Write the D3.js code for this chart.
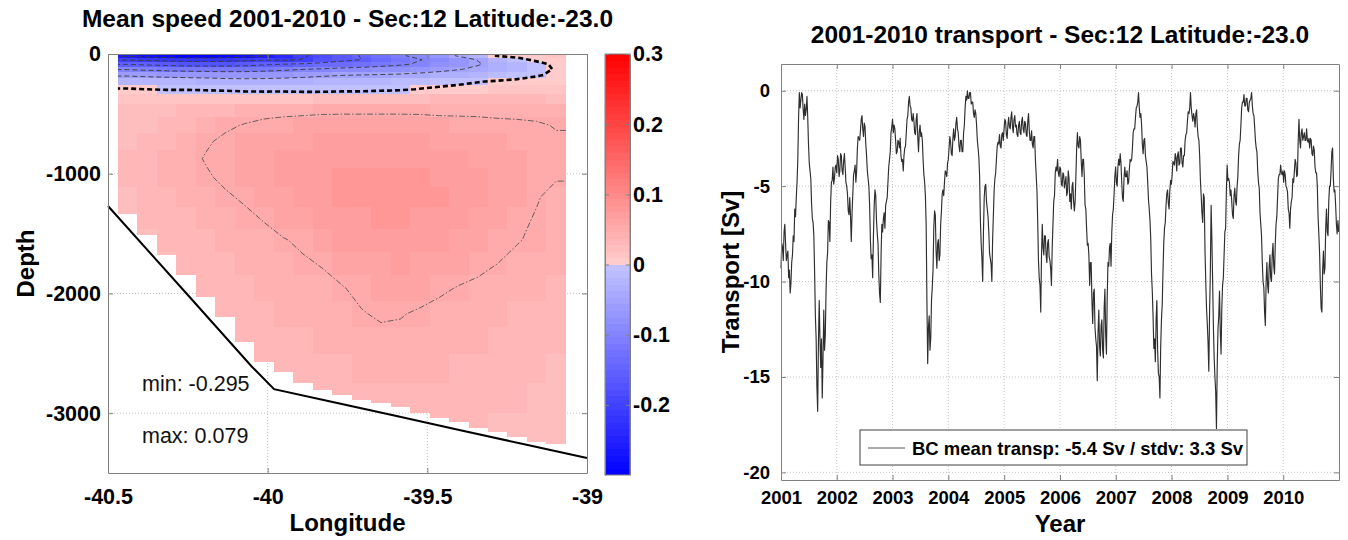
<!DOCTYPE html>
<html><head><meta charset="utf-8">
<script src="https://cdn.jsdelivr.net/npm/d3@7"></script>
<style>
html,body{margin:0;padding:0;background:#fff;}
svg{display:block;}
</style></head><body>
<svg id="chart" width="1348" height="540"></svg>
<script>
// ================= DATA =================
// Left panel: mean along-section speed (m/s), rows = depth layers, columns = longitude cells
const lonEdges = [-40.469,-40.408,-40.347,-40.286,-40.225,-40.164,-40.103,-40.042,-39.981,-39.920,-39.859,-39.798,-39.737,-39.676,-39.615,-39.554,-39.493,-39.432,-39.371,-39.310,-39.249,-39.188,-39.127,-39.066];
const depthEdges = [0,30,65,105,150,200,260,330,420,530,660,800,950,1110,1280,1460,1650,1850,2060,2280,2510,2750,3000,3260];
const colBottom = [1331,1506,1679,1846,2028,2195,2403,2570,2654,2748,2807,2849,2890,2916,2946,3000,3041,3072,3124,3155,3197,3235,3255];
const speedField = [
 [-0.260,-0.272,-0.283,-0.295,-0.292,-0.286,-0.272,-0.255,-0.235,-0.206,-0.185,-0.164,-0.148,-0.128,-0.105,-0.088,-0.068,-0.046,-0.022,0.002,0.006,0.009,0.011],
 [-0.204,-0.211,-0.217,-0.222,-0.222,-0.219,-0.213,-0.206,-0.208,-0.198,-0.178,-0.160,-0.150,-0.135,-0.118,-0.102,-0.085,-0.067,-0.048,-0.028,-0.006,0.004,0.009],
 [-0.152,-0.158,-0.164,-0.169,-0.170,-0.170,-0.166,-0.157,-0.150,-0.145,-0.138,-0.132,-0.126,-0.117,-0.106,-0.094,-0.081,-0.068,-0.053,-0.037,-0.020,-0.006,0.004],
 [-0.103,-0.109,-0.114,-0.118,-0.120,-0.121,-0.120,-0.115,-0.108,-0.101,-0.096,-0.090,-0.085,-0.081,-0.076,-0.069,-0.061,-0.052,-0.042,-0.031,-0.019,-0.008,0.002],
 [-0.057,-0.062,-0.066,-0.069,-0.071,-0.074,-0.075,-0.073,-0.069,-0.063,-0.057,-0.052,-0.050,-0.048,-0.045,-0.041,-0.036,-0.030,-0.023,-0.015,-0.008,-0.002,0.004],
 [-0.019,-0.022,-0.024,-0.027,-0.029,-0.033,-0.034,-0.034,-0.033,-0.031,-0.028,-0.024,-0.022,-0.020,-0.017,-0.013,-0.009,-0.005,-0.001,0.002,0.004,0.006,0.008],
 [0.002,0.000,-0.001,-0.001,-0.002,-0.003,-0.005,-0.006,-0.006,-0.008,-0.008,-0.007,-0.007,-0.005,-0.003,0.001,0.004,0.006,0.008,0.010,0.012,0.013,0.013],
 [0.012,0.013,0.014,0.015,0.015,0.015,0.015,0.016,0.017,0.018,0.019,0.021,0.022,0.024,0.026,0.028,0.029,0.030,0.030,0.030,0.030,0.029,0.027],
 [0.020,0.022,0.025,0.029,0.033,0.037,0.041,0.044,0.045,0.046,0.047,0.047,0.047,0.047,0.047,0.047,0.046,0.046,0.046,0.045,0.045,0.044,0.043],
 [0.024,0.027,0.031,0.036,0.042,0.047,0.051,0.054,0.056,0.057,0.058,0.059,0.059,0.059,0.059,0.058,0.057,0.056,0.055,0.054,0.053,0.052,0.049],
 [0.027,0.031,0.036,0.042,0.048,0.053,0.057,0.060,0.063,0.065,0.066,0.067,0.067,0.067,0.067,0.066,0.064,0.062,0.060,0.058,0.056,0.054,0.052],
 [0.029,0.033,0.039,0.045,0.051,0.056,0.061,0.065,0.068,0.070,0.072,0.073,0.074,0.074,0.073,0.072,0.070,0.067,0.064,0.061,0.058,0.055,0.052],
 [0.029,0.033,0.038,0.043,0.048,0.053,0.058,0.063,0.067,0.071,0.074,0.076,0.077,0.078,0.078,0.077,0.075,0.072,0.068,0.064,0.060,0.056,0.051],
 [0.028,0.032,0.036,0.040,0.044,0.048,0.052,0.058,0.064,0.069,0.073,0.076,0.078,0.079,0.079,0.078,0.076,0.072,0.067,0.062,0.057,0.051,0.046],
 [0.026,0.029,0.033,0.037,0.041,0.044,0.047,0.051,0.058,0.064,0.069,0.073,0.075,0.076,0.076,0.075,0.072,0.068,0.063,0.058,0.053,0.049,0.045],
 [null,0.027,0.030,0.034,0.037,0.040,0.043,0.046,0.049,0.053,0.061,0.066,0.070,0.072,0.072,0.071,0.068,0.064,0.059,0.055,0.051,0.047,0.043],
 [null,null,0.028,0.031,0.034,0.037,0.040,0.043,0.045,0.048,0.051,0.057,0.062,0.065,0.066,0.065,0.062,0.059,0.055,0.050,0.046,0.043,0.040],
 [null,null,null,null,0.032,0.034,0.037,0.040,0.042,0.044,0.046,0.049,0.054,0.058,0.059,0.057,0.053,0.049,0.046,0.043,0.041,0.039,0.037],
 [null,null,null,null,null,0.032,0.034,0.036,0.038,0.040,0.042,0.045,0.049,0.052,0.051,0.048,0.045,0.043,0.041,0.039,0.037,0.036,0.034],
 [null,null,null,null,null,null,0.031,0.033,0.035,0.037,0.039,0.041,0.044,0.046,0.046,0.044,0.042,0.040,0.038,0.036,0.034,0.033,0.031],
 [null,null,null,null,null,null,null,0.030,0.031,0.033,0.035,0.037,0.039,0.041,0.041,0.040,0.038,0.036,0.034,0.032,0.031,0.030,0.028],
 [null,null,null,null,null,null,null,null,null,null,0.031,0.032,0.034,0.035,0.036,0.035,0.034,0.033,0.031,0.030,0.029,0.028,0.026],
 [null,null,null,null,null,null,null,null,null,null,null,null,null,null,null,null,0.030,0.030,0.029,0.028,0.027,0.026,0.025]
];
const bathyLon   = [-40.5,-40.25,-40.05,-39.98,-39.8,-39.6,-39.4,-39.2,-39.0];
const bathyDepth = [1270,2013,2610,2800,2905,3022,3140,3258,3375];
const lonTicks = [-40.5,-40,-39.5,-39];
const depthTicks = [0,-1000,-2000,-3000];
const speedTicks = [0.3,0.2,0.1,0,-0.1,-0.2];
const contourNeg = [-0.25,-0.2,-0.15,-0.1,-0.05];
const contourZero = [0];
const contourPos = [0.05];

// Right panel: BC transport (Sv), one sample every 5 days from 2001-01-01
const transportStart = "2001-01-01";
const transportStepDays = 5;
const transport = [
 -9.3,-8.0,-8.2,-8.9,-7.4,-7.0,-8.0,-8.9,-8.6,-8.4,-9.8,-9.4,-10.6,-10.1,-9.0,-8.6,-7.6,-7.9,-6.2,-6.6,-5.6,-4.8,-3.6,-1.4,-0.1,-0.9,-0.5,-0.1,-0.2,-1.0,-1.5,-0.7,-1.3,-1.0,-0.3,-1.4,-2.8,-3.8,-4.2,-4.6,-5.9,-6.7,-6.9,-7.6,-9.5,-11.8,-13.0,-15.5,-16.8,-13.2,-11.0,-13.0,-14.5,-13.0,-16.1,-14.0,-11.5,-13.6,-12.8,-10.4,-9.0,-8.5,-6.8,-6.9,-7.9,-5.8,-4.8,-4.7,-4.0,-4.9,-4.6,-4.0,-3.9,
 -4.3,-3.4,-3.6,-4.5,-4.2,-3.3,-3.4,-4.2,-4.4,-3.7,-3.3,-4.0,-4.8,-5.0,-5.4,-6.3,-6.5,-5.6,-6.6,-7.9,-6.4,-5.4,-4.4,-4.2,-3.9,-4.8,-4.2,-3.0,-2.4,-2.5,-2.6,-2.1,-1.5,-1.3,-2.0,-2.4,-1.7,-1.9,-2.8,-3.4,-4.2,-4.6,-5.0,-6.0,-7.8,-8.8,-8.6,-9.8,-7.6,-6.0,-5.2,-5.5,-6.8,-7.5,-8.0,-9.6,-10.6,-11.1,-8.6,-7.0,-7.4,-6.7,-6.4,-7.2,-6.0,-5.8,-5.6,-4.8,-4.0,-3.6,-3.2,-2.2,-1.9,-1.5,
 -2.2,-1.8,-2.0,-2.6,-3.3,-3.2,-2.6,-2.7,-3.0,-2.5,-3.4,-3.7,-3.6,-4.2,-3.4,-3.0,-2.9,-2.2,-1.5,-1.3,-0.6,-0.3,-0.8,-0.9,-1.5,-1.6,-1.2,-1.6,-2.2,-2.3,-1.5,-1.2,-2.4,-3.2,-2.2,-1.8,-2.4,-2.2,-2.6,-3.6,-4.4,-4.8,-5.5,-7.0,-11.0,-14.3,-12.4,-11.8,-13.6,-13.0,-11.0,-10.3,-9.4,-7.2,-6.3,-6.5,-8.4,-9.3,-8.0,-7.8,-8.9,-8.6,-7.0,-6.3,-5.4,-5.2,-5.5,-4.8,-4.2,-4.3,-4.5,-3.8,
 -3.6,-3.0,-2.4,-2.7,-3.3,-3.4,-2.5,-2.0,-2.6,-2.4,-1.7,-1.4,-2.0,-2.2,-2.9,-3.2,-2.6,-2.6,-3.2,-3.2,-2.2,-1.8,-0.9,-0.3,-0.5,0.0,-0.4,-0.4,-0.1,-0.1,-0.7,-0.6,-0.6,-1.2,-1.4,-1.0,-1.2,-1.8,-2.6,-3.0,-3.5,-4.5,-6.8,-8.0,-8.8,-10.0,-7.4,-5.6,-5.0,-4.9,-5.8,-6.2,-6.6,-7.4,-8.5,-8.8,-9.1,-10.0,-7.8,-6.5,-5.2,-4.6,-4.3,-3.6,-2.9,-2.7,-2.8,-2.3,-2.9,-3.0,-2.3,-2.2,-2.6,-2.0,
 -1.5,-1.6,-2.3,-2.5,-1.8,-1.4,-1.9,-2.0,-1.4,-1.1,-1.9,-2.2,-1.5,-1.3,-1.9,-1.8,-2.3,-2.4,-1.8,-1.6,-2.2,-2.3,-1.6,-1.4,-2.0,-2.2,-1.6,-1.7,-2.3,-2.4,-1.6,-1.2,-2.1,-2.6,-2.6,-2.1,-2.8,-3.0,-2.4,-2.4,-3.6,-4.4,-5.2,-6.8,-8.9,-9.8,-10.2,-11.6,-8.6,-7.0,-8.2,-8.6,-7.6,-7.6,-8.6,-9.0,-8.0,-7.8,-8.7,-8.9,-9.3,-10.2,-8.2,-7.0,-5.8,-5.5,-4.3,-4.0,-4.2,-3.6,-4.3,-4.5,
 -4.0,-4.1,-4.9,-5.0,-4.3,-4.4,-5.1,-4.8,-4.5,-5.5,-5.3,-4.2,-4.6,-5.8,-5.4,-6.2,-5.0,-4.8,-5.8,-6.3,-5.8,-4.5,-3.0,-2.2,-2.9,-3.0,-2.4,-2.6,-3.7,-4.5,-3.6,-3.6,-4.5,-6.0,-6.2,-7.2,-8.1,-8.0,-8.6,-10.2,-9.0,-9.0,-11.0,-12.2,-10.6,-10.4,-12.4,-13.0,-13.4,-15.2,-12.6,-11.5,-13.4,-13.9,-12.3,-12.0,-13.6,-14.0,-11.4,-10.4,-12.8,-13.8,-10.8,-9.0,-9.2,-8.2,-8.0,-9.2,-7.4,-6.5,-6.2,-5.4,-4.5,-4.0,
 -4.8,-5.0,-4.0,-3.6,-3.9,-3.3,-3.8,-4.8,-5.6,-5.8,-4.6,-4.0,-4.5,-4.5,-4.2,-4.9,-4.8,-4.1,-3.6,-3.7,-3.6,-3.0,-2.2,-2.0,-2.0,-1.4,-0.9,-0.8,-0.6,-0.1,-0.9,-1.4,-1.2,-1.8,-2.8,-3.3,-2.6,-2.5,-3.4,-3.7,-4.0,-4.8,-5.7,-6.2,-6.8,-7.8,-9.6,-10.5,-11.8,-13.5,-13.0,-14.2,-12.0,-11.0,-13.6,-14.8,-15.0,-16.1,-13.4,-12.0,-11.2,-9.5,-8.0,-7.2,-6.9,-6.0,-5.4,-5.2,-5.9,-6.2,-5.2,-4.7,-4.9,-4.4,
 -3.7,-3.8,-3.9,-3.3,-3.5,-4.2,-3.4,-3.2,-3.9,-3.8,-3.0,-3.0,-3.8,-4.0,-3.4,-3.4,-2.6,-2.3,-2.2,-1.6,-1.1,-1.2,-0.9,-0.1,-0.9,-1.3,-1.6,-1.2,-1.4,-1.9,-1.2,-1.0,-1.9,-2.4,-2.6,-3.4,-4.7,-5.5,-6.4,-6.9,-5.4,-5.6,-8.4,-10.0,-11.4,-12.2,-13.2,-14.7,-11.6,-9.5,-6.0,-7.8,-10.0,-12.4,-14.0,-15.0,-15.8,-17.7,-14.4,-12.5,-11.8,-10.5,-12.6,-13.8,-11.4,-10.2,-9.8,-8.6,-7.4,-7.2,-5.2,-3.9,-4.7,-4.6,
 -4.8,-5.5,-5.2,-5.8,-6.5,-6.7,-5.5,-5.1,-5.8,-6.0,-5.0,-4.5,-3.4,-2.8,-2.6,-1.8,-0.9,-0.6,-0.6,-0.2,-0.8,-0.8,-0.4,-0.4,-1.0,-1.1,-0.6,-0.5,-0.4,-0.1,-0.8,-1.2,-1.3,-1.9,-2.6,-3.0,-3.2,-4.2,-4.8,-5.1,-6.4,-7.0,-7.6,-9.0,-10.0,-10.3,-11.6,-12.3,-10.0,-9.0,-10.2,-10.6,-9.2,-8.6,-9.8,-10.0,-8.6,-8.0,-9.2,-9.6,-8.0,-7.0,-6.6,-5.6,-4.6,-4.4,-4.4,-3.9,-4.3,-4.4,-4.2,-4.8,
 -4.2,-4.4,-5.0,-5.1,-5.3,-6.2,-6.4,-7.2,-6.2,-5.8,-5.6,-4.6,-4.8,-4.2,-3.6,-3.8,-4.5,-4.4,-2.6,-1.5,-2.6,-3.0,-2.2,-2.0,-2.6,-2.4,-2.2,-2.6,-2.6,-2.0,-2.6,-2.7,-2.5,-3.0,-2.5,-2.6,-3.3,-3.4,-2.9,-3.1,-4.0,-4.3,-4.3,-5.0,-6.6,-7.5,-8.5,-10.2,-11.4,-11.6,-9.4,-8.4,-9.6,-9.3,-7.2,-6.2,-7.4,-7.6,-5.8,-5.0,-5.0,-4.2,-3.2,-3.0,-4.6,-5.3,-5.2,-6.0,-7.0,-7.5,-6.8,-7.4
];
const yearTicks = [2001,2002,2003,2004,2005,2006,2007,2008,2009,2010];
const transportTicks = [0,-5,-10,-15,-20];
const legendMean = -5.4, legendStd = 3.3;

// ================= DRAWING =================
const FONT = '"Liberation Sans", Arial, Helvetica, sans-serif';
const AXC = "#808080";
const svg = d3.select("#chart").attr("font-family", FONT);

function styleAxis(g, fs){
  g.attr("font-family", FONT).attr("font-size", fs).attr("font-weight","bold");
  g.select(".domain").attr("stroke", AXC);
  g.selectAll(".tick line").attr("stroke", AXC);
  g.selectAll(".tick text").attr("fill", "#000");
}

// ---------- LEFT PANEL ----------
const L = {x0:108, x1:587, y0:54, y1:473};
const xL = d3.scaleLinear().domain([-40.5,-39]).range([L.x0, L.x1]);
const yL = d3.scaleLinear().domain([-3500,0]).range([L.y1, L.y0]);
const nCol = lonEdges.length-1, nRow = depthEdges.length-1;

const cNeg = d3.scaleLinear().domain([-0.3,0]).range(["rgb(0,0,255)","rgb(196,196,255)"]);
const cPos = d3.scaleLinear().domain([0,0.3]).range(["rgb(255,206,206)","rgb(255,0,0)"]);
const nLev = 64;
const levelVals = d3.range(nLev).map(i => -0.3 + (i+0.5)*0.6/nLev);
const colorQ = d3.scaleQuantize().domain([-0.3,0.3]).range(levelVals.map(v => v<0 ? cNeg(v) : cPos(v)));

const gL = svg.append("g");
// grid
gL.append("g").selectAll("line").data(lonTicks.slice(1,-1)).join("line")
  .attr("x1",d=>xL(d)).attr("x2",d=>xL(d)).attr("y1",L.y0).attr("y2",L.y1)
  .attr("stroke","#b5b5b5").attr("stroke-width",0.8).attr("stroke-dasharray","1,2");
gL.append("g").selectAll("line").data(depthTicks.filter(d=>d!==0)).join("line")
  .attr("x1",L.x0).attr("x2",L.x1).attr("y1",d=>yL(d)).attr("y2",d=>yL(d))
  .attr("stroke","#b5b5b5").attr("stroke-width",0.8).attr("stroke-dasharray","1,2");

// cells
const cells = [];
speedField.forEach((row,k) => row.forEach((v,i) => {
  if (v == null) return;
  const top = depthEdges[k], bot = Math.min(depthEdges[k+1], colBottom[i]);
  if (top >= bot) return;
  cells.push({i,k,v,top,bot});
}));
gL.append("g").selectAll("rect").data(cells).join("rect")
  .attr("x", d=>xL(lonEdges[d.i])).attr("width", d=>xL(lonEdges[d.i+1])-xL(lonEdges[d.i])+0.3)
  .attr("y", d=>yL(-d.top)).attr("height", d=>yL(-d.bot)-yL(-d.top)+0.3)
  .attr("fill", d=>colorQ(d.v)).attr("shape-rendering","crispEdges");

// contours (computed with d3.contours on the grid, open at the data boundary)
const flat = [];
for (let k=0;k<nRow;k++) for (let i=0;i<nCol;i++){
  let kk=k, v=speedField[k][i];
  while (v==null && kk>0){ kk--; v=speedField[kk][i]; }
  flat.push(v);
}
const cxs = d3.scaleLinear().domain(d3.range(nCol+1)).range(lonEdges);
const cys = d3.scaleLinear().domain(d3.range(nRow+1)).range(depthEdges);
function contourLines(level){
  const mp = d3.contours().size([nCol,nRow]).thresholds([level])(flat)[0];
  const onB = p => p[0]<=0 || p[0]>=nCol || p[1]<=0 || p[1]>=nRow;
  const proj = (q,b) => {
    const r=[q[0],q[1]];
    if (b[0]<=0) r[0]=0; else if (b[0]>=nCol) r[0]=nCol;
    else if (b[1]<=0) r[1]=0; else if (b[1]>=nRow) r[1]=nRow;
    return r;
  };
  const lines = [];
  mp.coordinates.forEach(poly => poly.forEach(ring => {
    let pts = ring.slice();
    const f=pts[0], l=pts[pts.length-1];
    if (f[0]===l[0] && f[1]===l[1]) pts.pop();
    const bi = pts.findIndex(onB);
    if (bi < 0){ lines.push(pts.concat([pts[0]])); return; }
    pts = pts.slice(bi).concat(pts.slice(0,bi));
    pts.push(pts[0]);
    let cur = [], lastB = null;
    pts.forEach(p => {
      if (onB(p)){
        if (cur.length>0){ cur.push(proj(cur[cur.length-1], p)); if (cur.length>2) lines.push(cur); }
        cur = []; lastB = p;
      } else {
        if (cur.length===0 && lastB) cur.push(proj(p, lastB));
        cur.push(p);
      }
    });
  }));
  return lines.map(li => li.map(p => [xL(cxs(p[0])), yL(-cys(p[1]))]));
}
const lineGen = d3.line();
const gC = gL.append("g").attr("fill","none");
contourNeg.forEach(lv => gC.append("g").selectAll("path").data(contourLines(lv)).join("path")
  .attr("d", lineGen).attr("stroke","#3a3a3a").attr("stroke-width",0.9).attr("stroke-dasharray","5,3"));
contourPos.forEach(lv => gC.append("g").selectAll("path").data(contourLines(lv)).join("path")
  .attr("d", lineGen).attr("stroke","#555").attr("stroke-width",0.9).attr("stroke-dasharray","6,2,1.5,2"));
contourZero.forEach(lv => gC.append("g").selectAll("path").data(contourLines(lv)).join("path")
  .attr("d", lineGen).attr("stroke","#000").attr("stroke-width",2.6).attr("stroke-dasharray","5,3"));

// bathymetry
gL.append("path").datum(d3.zip(bathyLon, bathyDepth))
  .attr("d", d3.line().x(d=>xL(d[0])).y(d=>yL(-d[1])))
  .attr("fill","none").attr("stroke","#000").attr("stroke-width",2);

// axes
gL.append("g").attr("transform",`translate(0,${L.y1})`)
  .call(d3.axisBottom(xL).tickValues(lonTicks).tickFormat(d=>String(d)).tickSizeInner(-5).tickSizeOuter(0).tickPadding(16))
  .call(g=>styleAxis(g,21.5));
gL.append("g").attr("transform",`translate(0,${L.y0})`)
  .call(d3.axisTop(xL).tickValues(lonTicks).tickFormat(()=>"").tickSizeInner(-5).tickSizeOuter(0))
  .call(g=>styleAxis(g,21.5));
gL.append("g").attr("transform",`translate(${L.x0},0)`)
  .call(d3.axisLeft(yL).tickValues(depthTicks).tickFormat(d=>String(d)).tickSizeInner(-5).tickSizeOuter(0).tickPadding(7))
  .call(g=>styleAxis(g,21.5));
gL.append("g").attr("transform",`translate(${L.x1},0)`)
  .call(d3.axisRight(yL).tickValues(depthTicks).tickFormat(()=>"").tickSizeInner(-5).tickSizeOuter(0))
  .call(g=>styleAxis(g,21.5));

// min / max annotations
const fmt3 = d3.format(".3f");
const allV = speedField.flat().filter(v=>v!=null);
gL.append("text").attr("x",142).attr("y",391).attr("font-size",21.5).attr("fill","#111")
  .text("min: " + fmt3(d3.min(allV)).replace("−","-"));
gL.append("text").attr("x",142).attr("y",443).attr("font-size",21.5).attr("fill","#111")
  .text("max: " + fmt3(d3.max(allV)).replace("−","-"));

// labels
gL.append("text").attr("x",347.5).attr("y",27).attr("text-anchor","middle")
  .attr("font-size",24.5).attr("font-weight","bold").text("Mean speed 2001-2010 - Sec:12 Latitude:-23.0");
gL.append("text").attr("x",347.5).attr("y",531).attr("text-anchor","middle")
  .attr("font-size",24).attr("font-weight","bold").text("Longitude");
gL.append("text").attr("transform","translate(33.5,263.5) rotate(-90)").attr("text-anchor","middle")
  .attr("font-size",24).attr("font-weight","bold").text("Depth");

// colorbar
const CB = {x0:605, x1:630, y0:54, y1:475};
const yC = d3.scaleLinear().domain([-0.3,0.3]).range([CB.y1, CB.y0]);
const step = 0.6/nLev;
gL.append("g").selectAll("rect").data(levelVals).join("rect")
  .attr("x",CB.x0).attr("width",CB.x1-CB.x0)
  .attr("y",d=>yC(d+step/2)).attr("height",d=>yC(d-step/2)-yC(d+step/2)+0.4)
  .attr("fill",d=>colorQ(d)).attr("shape-rendering","crispEdges");
gL.append("g").attr("transform",`translate(${CB.x1},0)`)
  .call(d3.axisRight(yC).tickValues(speedTicks).tickFormat(d=>String(d)).tickSizeInner(-4).tickSizeOuter(0).tickPadding(3))
  .call(g=>styleAxis(g,21.5));
gL.append("g").attr("transform",`translate(${CB.x0},0)`)
  .call(d3.axisLeft(yC).tickValues(speedTicks).tickFormat(()=>"").tickSizeInner(-4).tickSizeOuter(0))
  .call(g=>styleAxis(g,21.5));
gL.append("rect").attr("x",CB.x0).attr("y",CB.y0).attr("width",CB.x1-CB.x0).attr("height",CB.y1-CB.y0)
  .attr("fill","none").attr("stroke",AXC);

// ---------- RIGHT PANEL ----------
const R = {x0:781, x1:1339, y0:64, y1:480};
const parseD = d3.utcParse("%Y-%m-%d");
const t0 = parseD(transportStart);
const series = transport.map((v,i) => ({t: d3.utcDay.offset(t0, i*transportStepDays), v}));
const xR = d3.scaleUtc().domain([new Date(Date.UTC(2001,0,1)), new Date(Date.UTC(2011,0,1))]).range([R.x0, R.x1]);
const yR = d3.scaleLinear().domain([-20.4,1.4]).range([R.y1, R.y0]);
const yearDates = yearTicks.map(y => new Date(Date.UTC(y,0,1)));
const gR = svg.append("g");

gR.append("g").selectAll("line").data(yearDates.slice(1)).join("line")
  .attr("x1",d=>xR(d)).attr("x2",d=>xR(d)).attr("y1",R.y0).attr("y2",R.y1)
  .attr("stroke","#b5b5b5").attr("stroke-width",0.8).attr("stroke-dasharray","1,2");
gR.append("g").selectAll("line").data(transportTicks).join("line")
  .attr("x1",R.x0).attr("x2",R.x1).attr("y1",d=>yR(d)).attr("y2",d=>yR(d))
  .attr("stroke","#b5b5b5").attr("stroke-width",0.8).attr("stroke-dasharray","1,2");

gR.append("path").datum(series)
  .attr("d", d3.line().x(d=>xR(d.t)).y(d=>yR(d.v)))
  .attr("fill","none").attr("stroke","#2e2e2e").attr("stroke-width",1.15).attr("stroke-linejoin","round");

gR.append("g").attr("transform",`translate(0,${R.y1})`)
  .call(d3.axisBottom(xR).tickValues(yearDates).tickFormat(d3.utcFormat("%Y")).tickSizeInner(-5).tickSizeOuter(0).tickPadding(11))
  .call(g=>styleAxis(g,18.5));
gR.append("g").attr("transform",`translate(0,${R.y0})`)
  .call(d3.axisTop(xR).tickValues(yearDates).tickFormat(()=>"").tickSizeInner(-5).tickSizeOuter(0))
  .call(g=>styleAxis(g,18.5));
gR.append("g").attr("transform",`translate(${R.x0},0)`)
  .call(d3.axisLeft(yR).tickValues(transportTicks).tickFormat(d=>String(d)).tickSizeInner(-5).tickSizeOuter(0).tickPadding(11))
  .call(g=>styleAxis(g,18.5));
gR.append("g").attr("transform",`translate(${R.x1},0)`)
  .call(d3.axisRight(yR).tickValues(transportTicks).tickFormat(()=>"").tickSizeInner(-5).tickSizeOuter(0))
  .call(g=>styleAxis(g,18.5));

// legend
const lg = gR.append("g");
lg.append("rect").attr("x",860).attr("y",430).attr("width",387).attr("height",35)
  .attr("fill","#fff").attr("stroke","#404040").attr("stroke-width",1);
lg.append("line").attr("x1",868).attr("x2",905).attr("y1",448).attr("y2",448)
  .attr("stroke","#555").attr("stroke-width",1);
lg.append("text").attr("x",912).attr("y",454.5).attr("font-size",18.5).attr("font-weight","bold")
  .text(`BC mean transp: ${legendMean} Sv / stdv: ${legendStd} Sv`);

gR.append("text").attr("x",1060).attr("y",43).attr("text-anchor","middle")
  .attr("font-size",24.5).attr("font-weight","bold").text("2001-2010 transport - Sec:12 Latitude:-23.0");
gR.append("text").attr("x",1060).attr("y",532).attr("text-anchor","middle")
  .attr("font-size",24).attr("font-weight","bold").text("Year");
gR.append("text").attr("transform","translate(739,272) rotate(-90)").attr("text-anchor","middle")
  .attr("font-size",24).attr("font-weight","bold").text("Transport [Sv]");
</script></body></html>
